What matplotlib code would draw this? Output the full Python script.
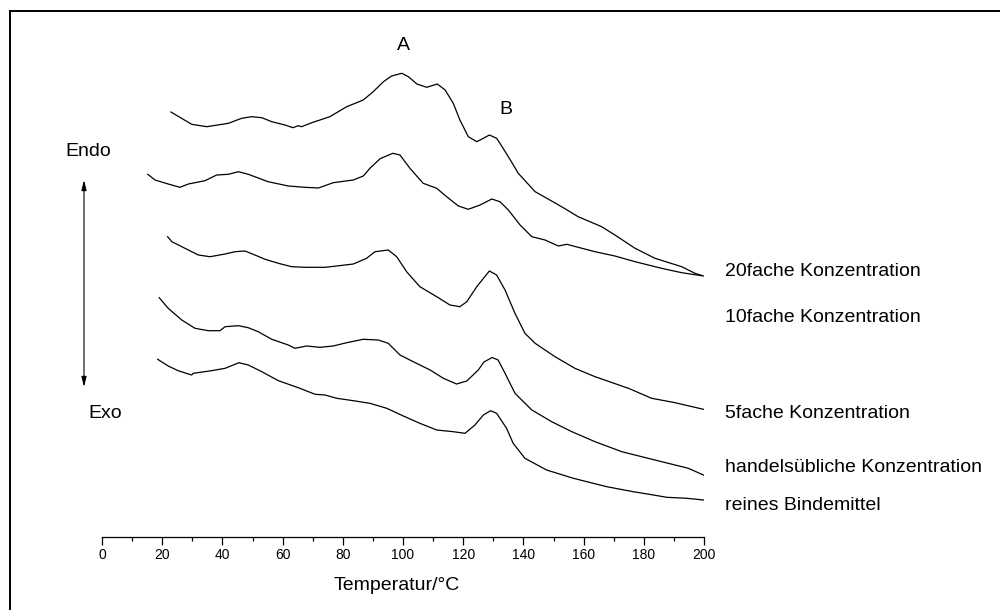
import matplotlib
matplotlib.use("Agg")
import matplotlib.pyplot as plt
from matplotlib.lines import Line2D
from matplotlib.ticker import MultipleLocator

plt.rcParams['font.family'] = ['Liberation Sans', 'DejaVu Sans']

# DSC-Kurven: Temperatur in °C, Wärmestrom in willkürlichen Einheiten (versetzt dargestellt)
t_20fach = [22.9, 29.8, 34.8, 42.0, 46.4, 49.7, 53.1, 56.4, 60.8, 63.4, 65.2, 66.3, 69.7, 74.1,
            75.7, 81.3, 86.8, 90.1, 93.5, 96.2, 99.6, 101.8, 104.6, 107.9, 111.4, 114.0, 116.7,
            118.9, 121.7, 124.5, 126.7, 128.7, 131.1, 132.2, 135.0, 138.3, 143.9, 147.2, 152.7,
            158.2, 166.0, 170.4, 177.1, 183.7, 192.6, 197.0, 199.8]
q_20fach = [425.0, 412.7, 410.3, 413.7, 418.7, 420.3, 419.3, 415.3, 412.0, 409.3, 411.3, 410.3,
            414.3, 418.7, 420.3, 430.3, 437.0, 445.3, 455.3, 461.0, 463.7, 460.3, 453.0, 449.7,
            453.0, 447.0, 433.7, 417.0, 400.3, 395.3, 398.7, 402.0, 398.7, 393.7, 380.3, 363.7,
            345.3, 339.7, 330.3, 320.3, 310.3, 302.0, 288.7, 278.7, 270.3, 263.7, 261.0]

t_10fach = [15.2, 17.6, 22.0, 25.9, 28.7, 34.2, 38.1, 42.0, 45.3, 48.6, 55.2, 61.9, 67.4, 71.9,
            76.8, 83.5, 86.8, 89.0, 92.4, 96.6, 99.0, 102.3, 106.7, 111.2, 114.5, 118.4, 121.7,
            125.6, 129.5, 132.2, 135.0, 138.9, 142.8, 147.2, 151.6, 154.4, 158.2, 163.8, 170.4,
            177.1, 185.9, 192.6, 199.2]
q_10fach = [362.7, 357.0, 353.0, 349.7, 353.0, 356.3, 362.0, 362.7, 365.3, 362.7, 355.3, 351.0,
            349.7, 349.0, 354.3, 357.0, 361.0, 368.7, 378.3, 383.7, 382.0, 368.7, 353.7, 348.7,
            340.3, 331.0, 327.7, 332.0, 338.0, 335.3, 327.0, 312.0, 300.3, 297.0, 291.0, 292.7,
            289.7, 285.3, 281.0, 275.3, 268.7, 264.3, 261.3]

t_5fach = [21.8, 23.2, 28.7, 32.0, 35.9, 40.9, 44.2, 47.5, 50.8, 54.2, 58.6, 63.0, 67.4, 74.1,
           78.0, 83.5, 87.9, 90.7, 95.1, 97.9, 101.2, 105.6, 111.2, 115.6, 118.9, 121.2, 124.5,
           128.7, 131.1, 133.9, 137.2, 140.5, 143.9, 150.5, 157.1, 163.8, 174.9, 182.6, 190.4,
           199.8]
q_5fach = [300.3, 295.3, 287.0, 282.0, 280.3, 283.0, 285.3, 286.0, 282.0, 277.7, 273.7, 270.3,
           269.7, 269.7, 271.0, 273.0, 278.7, 285.3, 287.0, 280.3, 265.3, 250.3, 240.3, 232.0,
           230.3, 235.3, 250.3, 266.0, 262.0, 247.0, 223.7, 203.7, 193.7, 180.3, 168.7, 160.3,
           148.7, 138.7, 134.3, 127.7]

t_handel = [19.0, 22.0, 26.5, 30.9, 35.3, 39.2, 40.9, 45.3, 48.6, 51.9, 56.4, 61.9, 64.1, 68.0,
            72.4, 76.8, 81.3, 86.8, 91.8, 95.1, 99.0, 103.4, 109.0, 113.4, 117.8, 121.2, 125.0,
            126.9, 129.6, 131.6, 133.9, 137.2, 142.8, 149.4, 156.1, 163.8, 172.7, 179.3, 188.1,
            194.8, 199.8]
q_handel = [239.3, 228.7, 217.0, 208.7, 206.3, 206.3, 210.3, 211.3, 209.3, 205.3, 197.7, 192.0,
            188.7, 191.0, 189.7, 191.0, 194.3, 197.7, 197.0, 193.7, 182.0, 175.3, 167.0, 158.7,
            153.0, 156.0, 167.0, 175.0, 179.5, 177.0, 163.7, 143.7, 127.0, 115.3, 105.3, 95.3,
            85.3, 80.3, 73.7, 68.7, 62.0]

t_rein = [18.5, 22.0, 25.3, 28.7, 29.8, 30.3, 36.4, 40.9, 45.5, 48.6, 53.1, 58.6, 65.2, 70.8,
          74.1, 78.0, 83.5, 89.0, 94.6, 100.1, 105.6, 111.2, 116.7, 120.6, 123.9, 126.7, 129.1,
          131.1, 134.4, 136.6, 140.5, 147.7, 156.6, 167.7, 176.5, 183.2, 187.6, 194.3, 199.8]
q_rein = [177.7, 171.0, 166.3, 163.0, 162.0, 163.7, 166.3, 168.7, 174.3, 172.0, 165.3, 156.3,
          149.3, 142.7, 142.0, 138.7, 136.3, 133.7, 128.7, 121.0, 113.7, 107.0, 105.3, 103.7,
          112.0, 122.0, 126.3, 123.7, 108.7, 93.7, 78.7, 67.0, 58.7, 50.3, 45.3, 42.0, 39.7,
          38.7, 37.0]

curve_labels = ["20fache Konzentration", "10fache Konzentration", "5fache Konzentration",
                "handelsübliche Konzentration", "reines Bindemittel"]
x_ticks = [0, 20, 40, 60, 80, 100, 120, 140, 160, 180, 200]

W, H = 1000, 610
fig = plt.figure(figsize=(W / 100, H / 100), dpi=100)
fig.patch.set_facecolor("white")

# plot area: x 0..200 spans pixels 102..704, baseline at pixel row 537
ax = fig.add_axes([102 / W, (H - 537) / H, 602 / W, 517 / H])
ax.set_xlim(0, 200)
ax.set_ylim(0, 517)

for t, q in [(t_20fach, q_20fach), (t_10fach, q_10fach), (t_5fach, q_5fach),
             (t_handel, q_handel), (t_rein, q_rein)]:
    ax.plot(t, q, color="black", lw=0.9, solid_joinstyle="round")

for side in ("left", "right", "top"):
    ax.spines[side].set_visible(False)
ax.spines["bottom"].set_linewidth(0.9)
ax.set_yticks([])
ax.set_xticks(x_ticks)
ax.set_xticklabels([str(v) for v in x_ticks])
ax.xaxis.set_minor_locator(MultipleLocator(10))
ax.tick_params(axis="x", which="major", direction="out", length=5.5, width=0.9,
               labelsize=10, pad=2.5)
ax.tick_params(axis="x", which="minor", direction="out", length=2.8, width=0.9)
ax.set_facecolor("none")


def ftext(px, py, s, size=14, ha="center", va="center"):
    fig.text(px / W, 1 - py / H, s, fontsize=size, ha=ha, va=va, color="black")


ftext(397, 585, "Temperatur/°C", size=14)
ftext(403, 45, "A", size=14)
ftext(506, 110, "B", size=14)
ftext(88, 152, "Endo", size=14)
ftext(105, 413, "Exo", size=14)

label_rows = [271, 317, 414, 468, 505]
for s, py in zip(curve_labels, label_rows):
    ftext(725, py, s, size=14, ha="left")

# Endo/Exo arrow
ax.annotate("", xy=(84, H - 180), xytext=(84, H - 387),
            xycoords="figure pixels", textcoords="figure pixels",
            arrowprops=dict(arrowstyle="<|-|>,head_length=0.6,head_width=0.15",
                            color="black", lw=0.8, shrinkA=0, shrinkB=0))

# frame lines
fig.add_artist(Line2D([10 / W, 10 / W], [1 - 11 / H, 0], transform=fig.transFigure,
                      color="black", lw=1.4))
fig.add_artist(Line2D([10 / W, 1], [1 - 11 / H, 1 - 11 / H], transform=fig.transFigure,
                      color="black", lw=1.4))

fig.savefig("out.png", dpi=100, facecolor="white")
